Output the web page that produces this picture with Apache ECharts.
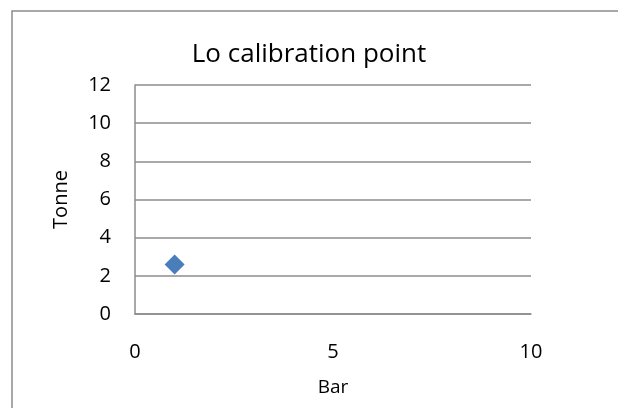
<!DOCTYPE html>
<html>
<head>
<meta charset="utf-8">
<script src="https://cdn.jsdelivr.net/npm/echarts@6/dist/echarts.min.js"></script>
<style>
  html, body { margin: 0; padding: 0; background: #fff; }
  #main { width: 618px; height: 408px; }
</style>
</head>
<body>
<div id="main"></div>
<script>
// data
var barValues = [1];
var tonneValues = [2.6];
var xTicks = [0, 5, 10];
var yTicks = [0, 2, 4, 6, 8, 10, 12];

var points = barValues.map(function (x, i) { return [x, tonneValues[i]] });

var chart = echarts.init(document.getElementById('main'));
var font = '"Open Sans", sans-serif';

var option = {
  animation: false,
  backgroundColor: '#fff',
  title: {
    text: 'Lo calibration point',
    left: 'center',
    top: 37,
    textStyle: { fontFamily: font, fontWeight: 'normal', fontSize: 26, color: '#000' }
  },
  graphic: [{
    type: 'rect',
    shape: { x: 12, y: 11, width: 640, height: 420 },
    style: { fill: 'none', stroke: '#8c8c8c', lineWidth: 1.5 }
  }],
  grid: { left: 135, top: 85, width: 396, height: 229 },
  xAxis: {
    type: 'value',
    min: xTicks[0],
    max: xTicks[xTicks.length - 1],
    interval: 5,
    name: 'Bar',
    nameLocation: 'middle',
    nameGap: 64,
    nameTextStyle: { fontFamily: font, fontSize: 19, color: '#000' },
    axisLine: { show: true, lineStyle: { color: '#8c8c8c', width: 1.5 } },
    axisTick: { show: false },
    splitLine: { show: false },
    axisLabel: { fontFamily: font, fontSize: 20, color: '#000', margin: 28 }
  },
  yAxis: {
    type: 'value',
    min: yTicks[0],
    max: yTicks[yTicks.length - 1],
    interval: 2,
    name: 'Tonne',
    nameLocation: 'middle',
    nameRotate: 90,
    nameGap: 64,
    nameTextStyle: { fontFamily: font, fontSize: 20, color: '#000' },
    axisLine: { show: true, lineStyle: { color: '#8c8c8c', width: 1.5 } },
    axisTick: { show: false },
    splitLine: { show: true, lineStyle: { color: '#8c8c8c', width: 1.5 } },
    axisLabel: { fontFamily: font, fontSize: 20, color: '#000', margin: 24 }
  },
  series: [{
    type: 'scatter',
    data: points,
    symbol: 'diamond',
    symbolSize: [20, 20],
    itemStyle: { color: '#4a7ebb', opacity: 1 }
  }]
};

chart.setOption(option);
</script>
</body>
</html>
